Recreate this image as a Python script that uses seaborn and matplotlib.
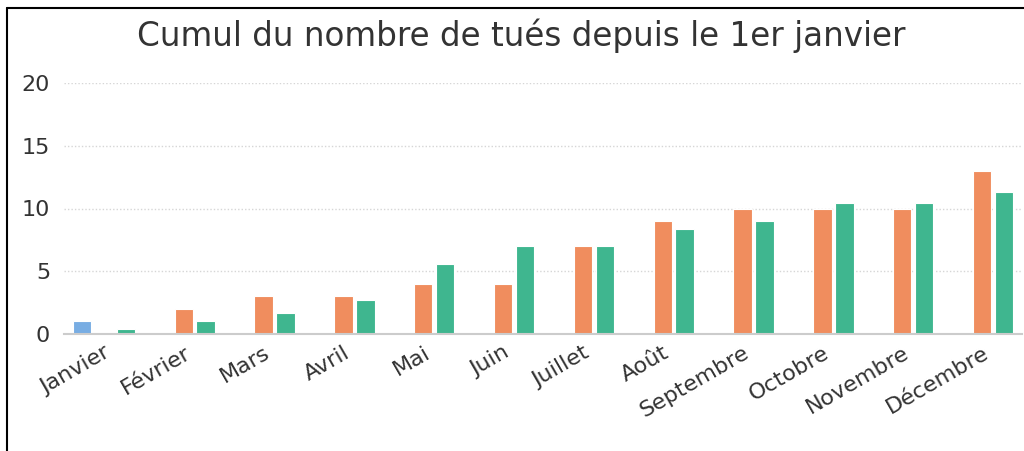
import numpy as np
import pandas as pd
import matplotlib
matplotlib.use("Agg")
import matplotlib.pyplot as plt
from matplotlib.lines import Line2D
import seaborn as sns

# ---- data ----
mois = ["Janvier", "Février", "Mars", "Avril", "Mai", "Juin", "Juillet",
        "Août", "Septembre", "Octobre", "Novembre", "Décembre"]
series = ["Année en cours", "Année précédente", "Moyenne"]
annee_en_cours = [1, None, None, None, None, None, None, None, None, None, None, None]
annee_precedente = [None, 2, 3, 3, 4, 4, 7, 9, 10, 10, 10, 13]
moyenne = [0.4, 1.0, 1.7, 2.7, 5.6, 7.0, 7.0, 8.4, 9.0, 10.4, 10.4, 11.3]
couleurs = ["#78ade3", "#f08d5e", "#3fb68f"]
y_ticks = [0, 5, 10, 15, 20]

rows = []
for s, vals in zip(series, [annee_en_cours, annee_precedente, moyenne]):
    for m, v in zip(mois, vals):
        if v is not None:
            rows.append({"mois": m, "serie": s, "valeur": v})
df = pd.DataFrame(rows)

sns.set_theme(style="white")
plt.rcParams["font.family"] = ["DejaVu Sans"]

fig = plt.figure(figsize=(10.24, 4.51), dpi=100)
ax = fig.add_axes([64 / 1024, 1 - 334 / 451, 958 / 1024, (334 - 83) / 451])

sns.barplot(data=df, x="mois", y="valeur", hue="serie", order=mois,
            hue_order=series, palette=couleurs, width=0.825, gap=0.16,
            edgecolor="#ffffff", linewidth=0.8, errorbar=None, legend=False,
            saturation=1, ax=ax)

ax.set_ylim(0, 20)
ax.set_xlim(-0.5, 11.5)
ax.set_yticks(y_ticks)
ax.set_yticklabels([str(t) for t in y_ticks], fontsize=16, color="#333333")
ax.yaxis.grid(True, linestyle=(0, (1, 1.5)), color="#d6d6d6", linewidth=1)
ax.set_axisbelow(True)

ax.set_xticks(range(len(mois)))
ax.set_xticklabels(mois, rotation=30, ha="right", rotation_mode="anchor",
                   fontsize=16, color="#333333")
ax.tick_params(axis="x", length=0, pad=6)
ax.tick_params(axis="y", length=0, pad=10)
ax.set_xticks(np.arange(-0.5, 12, 1), minor=True)
ax.tick_params(axis="x", which="minor", length=8, width=1.2, color="#cccccc")

for side in ["top", "right", "left"]:
    ax.spines[side].set_visible(False)
ax.spines["bottom"].set_color("#cccccc")
ax.spines["bottom"].set_linewidth(1.5)
ax.set_xlabel("")
ax.set_ylabel("")

fig.text(521 / 1024, 1 - 46 / 451, "Cumul du nombre de tués depuis le 1er janvier",
         ha="center", va="baseline", fontsize=23.5, color="#333333")

fig.add_artist(Line2D([7 / 1024, 7 / 1024], [0, 1 - 8 / 451],
                      transform=fig.transFigure, color="black", lw=1.5))
fig.add_artist(Line2D([7 / 1024, 1], [1 - 8 / 451, 1 - 8 / 451],
                      transform=fig.transFigure, color="black", lw=1.5))

fig.savefig("out.png", dpi=100)
